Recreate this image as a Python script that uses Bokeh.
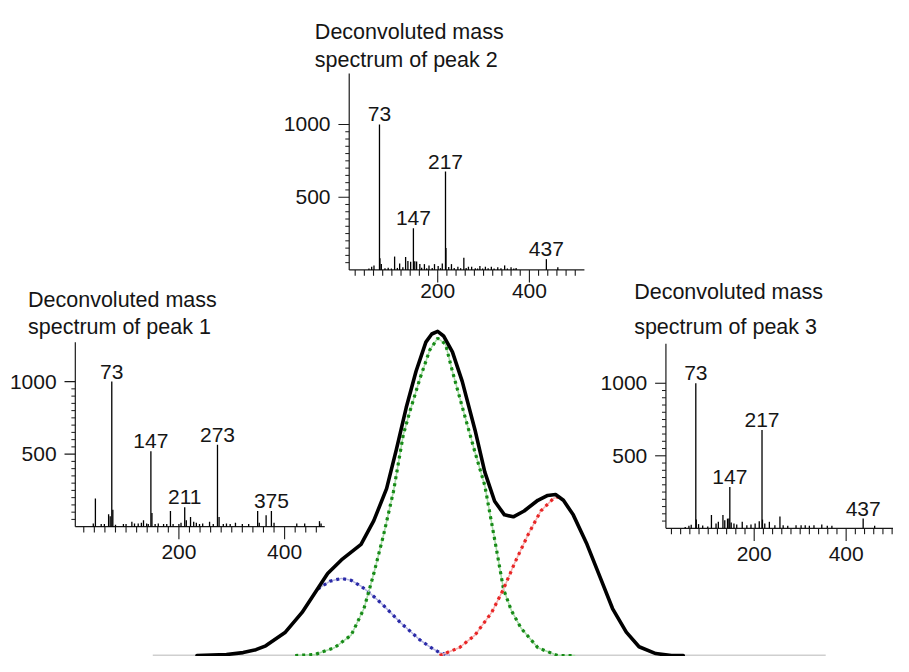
import numpy as np
from bokeh.plotting import figure
from bokeh.models import Range1d
from bokeh.embed import file_html
from bokeh.resources import INLINE
from bokeh.core.properties import value

# ---------------- data ----------------
# Total ion chromatogram (retention time in arbitrary scan units, intensity normalised to 100)
chrom_t = [50, 80, 97, 110, 120, 140, 157, 170, 183, 197, 217, 230, 243, 253, 263, 273, 283, 289, 295, 301,
           310, 320, 333, 343, 353, 363, 372, 383, 397, 407, 415, 423, 433, 447, 460, 473, 487, 500, 517, 533, 545]
chrom_I = [0, 0.3, 0.9, 1.8, 3.0, 7.2, 13.3, 19.3, 25.3, 29.5, 34.3, 41.6, 51.5, 63.6, 76.5, 87.7, 96.7, 99.2, 100, 98.6,
           93.7, 84.6, 69.6, 56.6, 47.6, 43.4, 42.8, 44.6, 47.9, 49.4, 49.7, 47.9, 43.4, 34.3, 24.4, 14.5, 7.2, 2.7, 0.6, 0, 0]
chrom_axis_t = [5, 690]

peak1_t = [173, 185, 197, 207, 217, 227, 237, 247, 257, 267, 277, 287, 297, 307]
peak1_I = [20.5, 22.9, 23.8, 23.2, 21.4, 19.0, 16.3, 13.3, 10.2, 7.5, 4.8, 2.7, 0.9, 0]

peak2_t = [150, 170, 190, 207, 220, 230, 240, 250, 260, 267, 277, 287, 295, 303, 310, 323, 333, 343, 355, 362,
           370, 380, 397, 417, 435]
peak2_I = [0, 0.3, 2.4, 6.3, 14.5, 25.3, 37.3, 50.6, 68.1, 75.6, 85.5, 94.3, 97.9, 96.1, 87.7, 73.5, 62.7, 52.4,
           32.5, 20.5, 13.9, 8.4, 2.4, 0, 0]

peak3_t = [297, 317, 333, 350, 362, 373, 387, 400, 413, 420]
peak3_I = [0, 2.4, 6.3, 13.3, 20.5, 28.3, 37.3, 44.6, 48.5, 49.1]

# Deconvoluted mass spectra (m/z, abundance)
mz1 = [38, 42, 53, 59, 67, 70, 73, 75, 80, 95, 100, 111, 116, 123, 129, 133, 139, 142, 147, 149,
       155, 161, 171, 177, 184, 189, 200, 204, 211, 214, 222, 228, 233, 239, 245, 258, 265, 273, 276, 284,
       290, 297, 307, 320, 332, 349, 352, 365, 375, 380, 423, 438, 466, 469]
int1 = [22, 195, 18, 18, 85, 72, 1000, 117, 14, 18, 18, 34, 22, 22, 27, 45, 22, 18, 520, 94,
        18, 22, 18, 18, 108, 18, 18, 27, 134, 45, 67, 34, 27, 18, 22, 34, 18, 565, 67, 18,
        22, 18, 27, 18, 18, 108, 27, 78, 108, 27, 22, 22, 38, 22]
labels1 = [73, 147, 211, 273, 375]

mz2 = [50, 56, 61, 73, 74, 77, 85, 92, 99, 106, 112, 117, 124, 130, 135, 141, 147, 150, 154, 161,
       165, 171, 176, 181, 188, 193, 201, 206, 210, 217, 218, 224, 230, 236, 244, 250, 257, 262, 267, 274,
       282, 287, 292, 298, 304, 310, 317, 323, 331, 338, 346, 352, 360, 366, 371, 437, 462]
int2 = [10, 22, 30, 1000, 80, 40, 12, 15, 10, 92, 14, 45, 18, 89, 62, 56, 286, 60, 58, 40,
        15, 40, 12, 31, 14, 40, 27, 12, 45, 676, 150, 20, 40, 14, 22, 12, 83, 14, 22, 22,
        12, 10, 27, 10, 22, 12, 22, 10, 18, 12, 31, 10, 18, 10, 14, 74, 18]
labels2 = [73, 147, 217, 437]

mz3 = [50, 58, 63, 73, 74, 79, 88, 99, 107, 117, 122, 132, 136, 142, 145, 147, 150, 156, 162, 174,
       184, 193, 202, 211, 217, 218, 223, 233, 245, 256, 263, 273, 291, 302, 311, 320, 330, 347, 359, 369,
       437, 462]
int3 = [10, 18, 25, 1000, 60, 29, 20, 12, 92, 34, 45, 92, 56, 67, 67, 285, 40, 34, 27, 45,
        22, 27, 34, 49, 677, 60, 34, 45, 22, 81, 22, 18, 22, 22, 22, 18, 22, 27, 18, 18,
        67, 18]
labels3 = [73, 147, 217, 437]

x_major_ticks = [200, 400]
y_major_ticks = [500, 1000]
title1 = ["Deconvoluted mass", "spectrum of peak 1"]
title2 = ["Deconvoluted mass", "spectrum of peak 2"]
title3 = ["Deconvoluted mass", "spectrum of peak 3"]

# ---------------- figure ----------------
FONT = value("Liberation Sans")
p = figure(width=893, height=656, x_range=Range1d(0, 909), y_range=Range1d(672, 0),
           output_backend="svg", toolbar_location=None,
           x_axis_location=None, y_axis_location=None, min_border=0,
           outline_line_color=None, background_fill_color="white", border_fill_color="white")
p.xgrid.visible = False
p.ygrid.visible = False


def sub(xs, ys, xt, yt):
    return p.subplot(x_source=Range1d(*xs), y_source=Range1d(*ys),
                     x_target=Range1d(*xt), y_target=Range1d(*yt))


# ---------------- chromatogram ----------------
ch = sub((0, 700), (0, 100), (150, 850), (671, 339))
ch.line(x=chrom_axis_t, y=[0, 0], line_color="#cfcfcf", line_width=2)
for tt, ii, dark, light in [(peak1_t, peak1_I, "#2a2aa8", "#b4b4e0"),
                            (peak2_t, peak2_I, "#178a17", "#a8dca8"),
                            (peak3_t, peak3_I, "#e82626", "#f4b0b0")]:
    ch.line(x=tt, y=ii, line_color=light, line_width=1.5)
    ch.line(x=tt, y=ii, line_color=dark, line_width=3.2, line_dash="3 4")
ch.line(x=chrom_t, y=chrom_I, line_color="black", line_width=3.6, line_join="round", line_cap="round")

# ---------------- insets ----------------
insets = [
    dict(mz=mz1, it=int1, labels=labels1, title=title1, x0=74.0, kx=0.538, y0=539.0, ky=0.1486,
         ax=(4, 476), ytop=1272, xminor_max=460, xlab=19, tx=28, ty=(306.7, 334.5)),
    dict(mz=mz2, it=int2, labels=labels2, title=title2, x0=351.7, kx=0.4667, y0=276.0, ky=0.149,
         ax=(7, 520), ytop=1350, xminor_max=500, xlab=14, tx=320, ty=(32, 60.5)),
    dict(mz=mz3, it=int3, labels=labels3, title=title3, x0=673.6, kx=0.468, y0=540.7, ky=0.1486,
         ax=(8, 505), ytop=1272, xminor_max=500, xlab=19, tx=645, ty=(298.5, 334)),
]

TXT = dict(text_font=FONT, text_font_size="21px", text_color="#151515")

for ins in insets:
    xt = (ins["x0"], ins["x0"] + 500 * ins["kx"])
    yt = (ins["y0"], ins["y0"] - 1000 * ins["ky"])
    d = sub((0, 500), (0, 1000), xt, yt)
    # axes lines
    d.line(x=[ins["ax"][0], ins["ax"][1]], y=[0, 0], line_color="#1a1a1a", line_width=1.2)
    d.line(x=[ins["ax"][0], ins["ax"][0]], y=[0, ins["ytop"]], line_color="#1a1a1a", line_width=1.2)
    # spectrum bars
    d.segment(x0=ins["mz"], y0=[0] * len(ins["mz"]), x1=ins["mz"], y1=ins["it"],
              line_color="black", line_width=1.3)
    # peak labels
    lut = dict(zip(ins["mz"], ins["it"]))
    d.text(x=ins["labels"], y=[lut[m] for m in ins["labels"]], text=[str(m) for m in ins["labels"]],
           text_align="center", text_baseline="bottom", y_offset=-3, **TXT)

    # x axis ticks (y measured in pixels below the baseline)
    xa = sub((0, 500), (0, 1), xt, (ins["y0"], ins["y0"] + 1))
    minor = [v for v in range(20, ins["xminor_max"] + 1, 20) if v not in x_major_ticks]
    xa.segment(x0=minor, y0=[0] * len(minor), x1=minor, y1=[6] * len(minor),
               line_color="#1a1a1a", line_width=1.1)
    xa.segment(x0=x_major_ticks, y0=[0, 0], x1=x_major_ticks, y1=[13, 13],
               line_color="#1a1a1a", line_width=1.1)
    xa.text(x=x_major_ticks, y=[ins["xlab"]] * 2, text=[str(v) for v in x_major_ticks],
            text_align="center", text_baseline="top", **TXT)

    # y axis ticks (x measured in pixels to the left of the axis)
    axpx = ins["x0"] + ins["ax"][0] * ins["kx"]
    ya = sub((0, 1), (0, 1000), (axpx, axpx - 1), yt)
    yminor = [v for v in range(50, 1001, 50) if v not in y_major_ticks]
    ya.segment(x0=[0] * len(yminor), y0=yminor, x1=[4] * len(yminor), y1=yminor,
               line_color="#1a1a1a", line_width=1.0)
    ya.segment(x0=[0, 0], y0=y_major_ticks, x1=[11, 11], y1=y_major_ticks,
               line_color="#1a1a1a", line_width=1.1)
    ya.text(x=[19, 19], y=y_major_ticks, text=[str(v) for v in y_major_ticks],
            text_align="right", text_baseline="middle", **TXT)

    # title (two lines)
    p.text(x=[ins["tx"], ins["tx"]], y=list(ins["ty"]), text=ins["title"],
           text_align="left", text_baseline="alphabetic",
           text_font=FONT, text_font_size="21.5px", text_color="#151515")

open("out.html", "w").write(file_html(p, INLINE))
